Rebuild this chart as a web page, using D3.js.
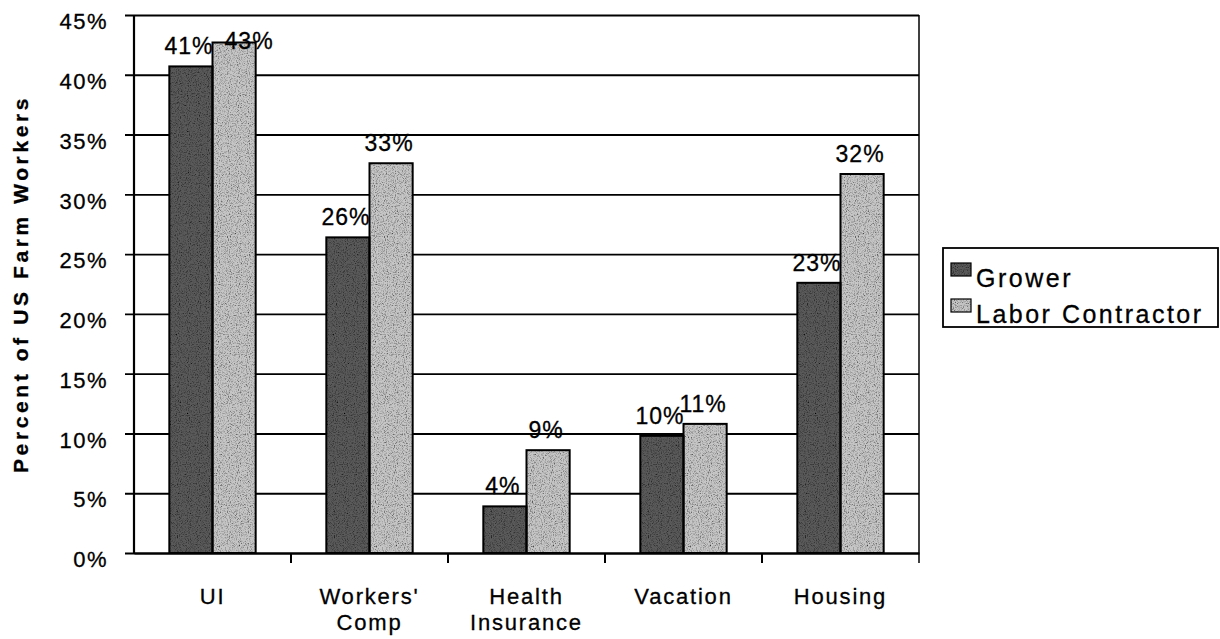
<!DOCTYPE html>
<html>
<head>
<meta charset="utf-8">
<script src="https://cdn.jsdelivr.net/npm/d3@7"></script>
<style>
    body { margin: 0; background: #fff; }
    svg { display: block; font-family: "Liberation Sans", Arial, sans-serif; }
    svg text { fill: #000; stroke: #000; stroke-width: 0.3px; }
</style>
</head>
<body>
<div class="content"></div>
<script>
(function () {
    'use strict';
    var categories = [["UI"], ["Workers'", "Comp"], ["Health", "Insurance"], ["Vacation"], ["Housing"]],
        seriesNames = ["Grower", "Labor Contractor"],
        grower = [40.7, 26.4, 3.9, 9.8, 22.6],
        contractor = [42.7, 32.6, 8.6, 10.8, 31.7],
        valueLabels = [["41%", "43%"], ["26%", "33%"], ["4%", "9%"], ["10%", "11%"], ["23%", "32%"]],
        yTicks = [0, 5, 10, 15, 20, 25, 30, 35, 40, 45],
        chart = {
            width: 1220,
            height: 639,
            left: 134,
            right: 919,
            top: 15,
            bottom: 553,
            fills: ["#5a5a5a", "#c6c6c6"]
        };

    var svg = d3.select(".content").append("svg")
        .attr("width", chart.width)
        .attr("height", chart.height);

    // speckled texture like the scanned print
    var defs = svg.append("defs");
    var grain = defs.append("filter").attr("id", "grain")
        .attr("x", 0).attr("y", 0).attr("width", "100%").attr("height", "100%");
    grain.append("feTurbulence").attr("type", "fractalNoise")
        .attr("baseFrequency", 0.9).attr("numOctaves", 2).attr("seed", 4).attr("result", "noise");
    grain.append("feColorMatrix").attr("in", "noise").attr("type", "matrix")
        .attr("values", "0 0 0 0 0  0 0 0 0 0  0 0 0 0 0  2.2 0 0 0 -1.0").attr("result", "dots");
    grain.append("feComposite").attr("in", "dots").attr("in2", "SourceGraphic")
        .attr("operator", "in").attr("result", "dots2");
    var merge = grain.append("feMerge");
    merge.append("feMergeNode").attr("in", "SourceGraphic");
    merge.append("feMergeNode").attr("in", "dots2");

    var x = d3.scaleBand()
        .domain(d3.range(categories.length))
        .range([chart.left, chart.right]);

    var xs = d3.scaleBand()
        .domain(d3.range(seriesNames.length))
        .range([x.bandwidth() * 0.225, x.bandwidth() * 0.775]);

    var y = d3.scaleLinear()
        .domain([0, 45])
        .range([chart.bottom, chart.top]);

    // gridlines + y axis
    var yAxis = d3.axisLeft(y)
        .tickValues(yTicks)
        .tickSize(-(chart.right - chart.left))
        .tickPadding(0)
        .tickFormat(function (d) { return d + "%"; });

    var gy = svg.append("g")
        .attr("transform", "translate(" + chart.left + ",0)")
        .call(yAxis);
    gy.select(".domain").remove();
    gy.selectAll(".tick line")
        .attr("x1", -9)
        .attr("stroke", "#000")
        .attr("stroke-width", 1.9);
    gy.selectAll(".tick text")
        .attr("x", -26)
        .attr("dy", "0.35em")
        .attr("y", 6)
        .attr("font-size", "22px")
        .attr("letter-spacing", "1.5px")
        .attr("text-anchor", "end");

    // bars
    var data = categories.map(function (c, i) {
        return [grower[i], contractor[i]].map(function (v, s) {
            return {cat: i, s: s, value: v, label: valueLabels[i][s]};
        });
    });

    var groups = svg.selectAll("g.group")
        .data(data)
        .enter().append("g")
        .attr("class", "group")
        .attr("transform", function (d, i) { return "translate(" + x(i) + ",0)"; });

    groups.selectAll("rect.fill")
        .data(function (d) { return d; })
        .enter().append("rect")
        .attr("class", "fill")
        .attr("x", function (d) { return xs(d.s); })
        .attr("y", function (d) { return y(d.value); })
        .attr("width", xs.bandwidth())
        .attr("height", function (d) { return y(0) - y(d.value); })
        .attr("fill", function (d) { return chart.fills[d.s]; })
        .attr("filter", "url(#grain)");

    groups.selectAll("rect.edge")
        .data(function (d) { return d; })
        .enter().append("rect")
        .attr("class", "edge")
        .attr("x", function (d) { return xs(d.s); })
        .attr("y", function (d) { return y(d.value); })
        .attr("width", xs.bandwidth())
        .attr("height", function (d) { return y(0) - y(d.value); })
        .attr("fill", "none")
        .attr("stroke", "#000")
        .attr("stroke-width", 2);

    groups.selectAll("text.val")
        .data(function (d) { return d; })
        .enter().append("text")
        .attr("class", "val")
        .attr("x", function (d) {
            var cx = xs(d.s) + xs.bandwidth() / 2;
            // label too close to the top edge gets pushed aside
            if (y(d.value) - 30 < chart.top) { cx += 17; }
            return cx - 2;
        })
        .attr("y", function (d) {
            var ty = y(d.value) - 12;
            if (y(d.value) - 30 < chart.top) { ty += 19; }
            return ty;
        })
        .attr("text-anchor", "middle")
        .attr("font-size", "23px")
        .attr("letter-spacing", "1px")
        .text(function (d) { return d.label; });

    // plot frame: left axis, right edge, bottom axis
    svg.append("line")
        .attr("x1", chart.left).attr("x2", chart.left)
        .attr("y1", chart.top).attr("y2", chart.bottom)
        .attr("stroke", "#000").attr("stroke-width", 2.2);
    svg.append("line")
        .attr("x1", chart.right).attr("x2", chart.right)
        .attr("y1", chart.top).attr("y2", chart.bottom + 10)
        .attr("stroke", "#000").attr("stroke-width", 1.5);

    var xAxis = d3.axisBottom(x).tickSize(0).tickFormat("");
    var gx = svg.append("g")
        .attr("transform", "translate(0," + chart.bottom + ")")
        .call(xAxis);
    gx.select(".domain").attr("stroke", "#000").attr("stroke-width", 2);
    // category separators
    gx.selectAll("line.sep")
        .data(d3.range(1, categories.length))
        .enter().append("line")
        .attr("class", "sep")
        .attr("x1", function (i) { return x(i); })
        .attr("x2", function (i) { return x(i); })
        .attr("y1", 0).attr("y2", 10)
        .attr("stroke", "#000").attr("stroke-width", 2);

    var catLabels = svg.selectAll("text.cat")
        .data(categories)
        .enter().append("text")
        .attr("class", "cat")
        .attr("x", function (d, i) { return x(i) + x.bandwidth() / 2; })
        .attr("y", 604)
        .attr("text-anchor", "middle")
        .attr("font-size", "22px")
        .attr("letter-spacing", "1.8px");
    catLabels.selectAll("tspan")
        .data(function (d) { return d; })
        .enter().append("tspan")
        .attr("x", function () { return d3.select(this.parentNode).attr("x"); })
        .attr("dy", function (d, i) { return i === 0 ? 0 : 26; })
        .text(function (d) { return d; });

    // y axis title
    svg.append("text")
        .attr("transform", "translate(28," + ((chart.top + chart.bottom) / 2) + ") rotate(-90)")
        .attr("text-anchor", "middle")
        .attr("font-size", "21px")
        .attr("font-weight", "bold")
        .attr("letter-spacing", "3.6px")
        .text("Percent of US Farm Workers");

    // legend
    var legend = svg.append("g").attr("transform", "translate(943,248)");
    legend.append("rect")
        .attr("width", 275).attr("height", 79)
        .attr("fill", "#fff").attr("stroke", "#000").attr("stroke-width", 1.8);
    var items = legend.selectAll("g.item")
        .data(seriesNames)
        .enter().append("g")
        .attr("class", "item")
        .attr("transform", function (d, i) { return "translate(8," + (15 + i * 36) + ")"; });
    items.append("rect")
        .attr("width", 20).attr("height", 13)
        .attr("fill", function (d, i) { return chart.fills[i]; })
        .attr("filter", "url(#grain)");
    items.append("rect")
        .attr("width", 20).attr("height", 13)
        .attr("fill", "none").attr("stroke", "#000").attr("stroke-width", 1.2);
    items.append("text")
        .attr("x", 25).attr("y", 24)
        .attr("font-size", "25px")
        .attr("letter-spacing", "2.5px")
        .text(function (d) { return d; });
}());
</script>
</body>
</html>
